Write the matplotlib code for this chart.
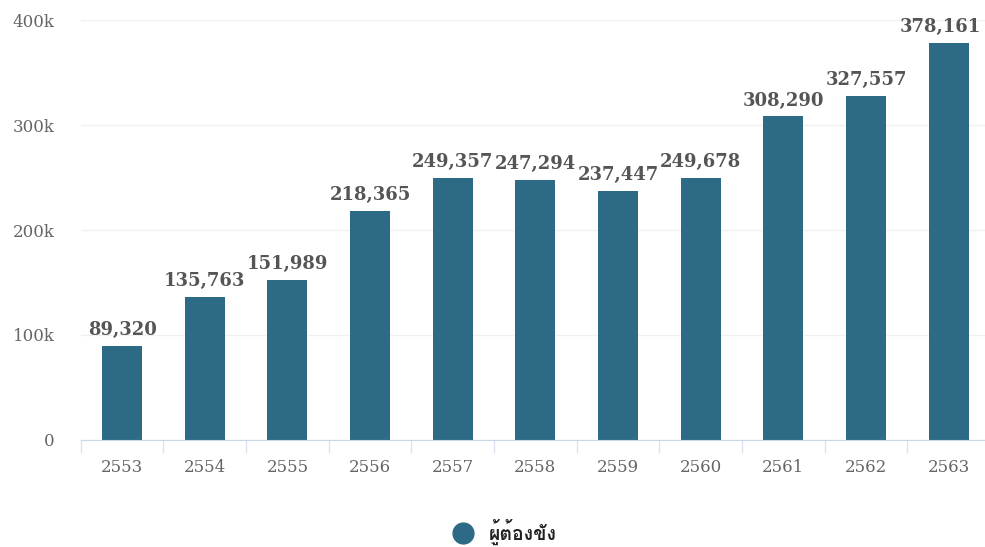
import numpy as np
import matplotlib
matplotlib.use('Agg')
import matplotlib.pyplot as plt
from matplotlib import font_manager
from matplotlib.lines import Line2D
from matplotlib.ticker import FuncFormatter

years = ['2553', '2554', '2555', '2556', '2557', '2558', '2559', '2560', '2561', '2562', '2563']
prisoners = [89320, 135763, 151989, 218365, 249357, 247294, 237447, 249678, 308290, 327557, 378161]
series_name = 'ผู้ต้องขัง'

bar_color = '#2d6a85'
serif = ['DejaVu Serif', 'Liberation Serif']

# find any installed font that can draw Thai
thai_fonts = []
for f in font_manager.fontManager.ttflist:
    n = f.name
    if 'Thai' in n or n in ('Loma', 'Garuda', 'Kinnari', 'Norasi', 'Sawasdee', 'Waree', 'Umpush', 'Laksaman'):
        if n not in thai_fonts:
            thai_fonts.append(n)
legend_family = thai_fonts + ['Noto Sans', 'DejaVu Sans']

fig = plt.figure(figsize=(9.85, 5.47), dpi=100)
ax = fig.add_axes([0.082, 0.196, 0.923, 0.767])

x = np.arange(len(years))
ax.bar(x, prisoners, width=0.485, color=bar_color, zorder=2)

for i, (xi, v) in enumerate(zip(x, prisoners)):
    # last label is pushed left so it stays inside the figure
    dx = -6 if i == len(x) - 1 else 0
    ax.annotate(f'{v:,}', (xi, v), xytext=(dx, 5), textcoords='offset points',
                ha='center', va='bottom', fontsize=13, fontweight='bold',
                color='#555555', family=serif)

ax.set_xlim(-0.5, len(years) - 0.5)
ax.set_ylim(0, 400000)
ax.set_yticks([0, 100000, 200000, 300000, 400000])
ax.yaxis.set_major_formatter(FuncFormatter(lambda v, p: '0' if v == 0 else f'{int(v/1000)}k'))
ax.set_xticks(x)
ax.set_xticklabels(years)
ax.set_xticks(np.arange(-0.5, len(years)), minor=True)

for lab in ax.get_xticklabels() + ax.get_yticklabels():
    lab.set_family(serif)
    lab.set_fontsize(12)
    lab.set_color('#666666')

ax.tick_params(axis='y', length=0, pad=19)
ax.tick_params(axis='x', which='major', length=0, pad=14)
ax.tick_params(axis='x', which='minor', length=9, color='#dde3ef', width=1)

ax.grid(axis='y', color='#f0f0f0', linewidth=1, zorder=0)
for s in ['top', 'right', 'left']:
    ax.spines[s].set_visible(False)
ax.spines['bottom'].set_color('#ccd6eb')

handle = Line2D([], [], marker='o', linestyle='', markersize=15, color=bar_color)
leg = fig.legend([handle], [series_name], loc='center', bbox_to_anchor=(0.508, 0.027),
                 frameon=False, handletextpad=0.3, prop={'family': legend_family, 'weight': 'bold', 'size': 14})
for t in leg.get_texts():
    t.set_color('#222222')

fig.savefig('out.png', dpi=100)
